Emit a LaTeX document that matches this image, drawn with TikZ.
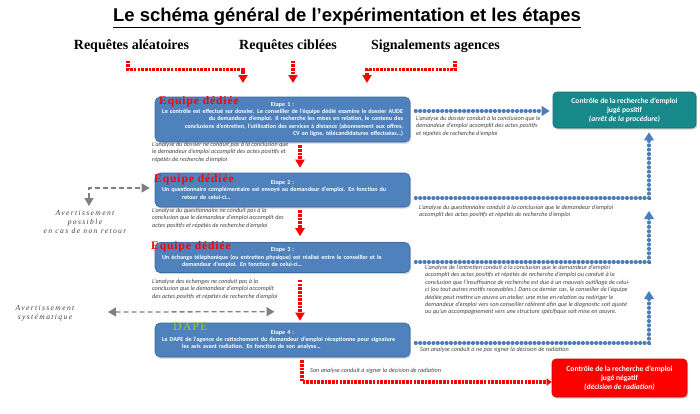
\documentclass[tikz,border=0pt]{standalone}
\usepackage{fontspec}
\setmainfont{Carlito}
\newfontfamily\titlefont{Liberation Sans}
\newfontfamily\reqfont{Liberation Serif}
\newfontfamily\eqfont[LetterSpace=8]{Liberation Serif}
\newfontfamily\avfont[LetterSpace=18]{Liberation Serif}
\usetikzlibrary{arrows.meta,shadows,calc}
\definecolor{boxblue}{HTML}{4F81BD}
\definecolor{boxborder}{HTML}{3C6A9E}
\definecolor{dotblue}{HTML}{4A7EBB}
\definecolor{teal}{HTML}{17898A}
\definecolor{redbox}{HTML}{FF0000}
\definecolor{dapegreen}{HTML}{99CC33}
\definecolor{txtgray}{HTML}{404040}
\definecolor{arrowgray}{HTML}{808080}
\newcommand{\rtline}[1]{\makebox[241pt][r]{#1}}
\newcommand{\stline}[1]{\makebox[241pt][s]{#1}}
\newcommand{\ctline}[1]{\makebox[241pt][c]{#1}}
\tikzset{
  stepbox/.style={rounded corners=5pt, fill=boxblue, draw=boxborder, line width=0.6pt,
    minimum width=255pt, inner sep=0pt, text width=241pt, align=left,
    drop shadow={shadow xshift=1.2pt, shadow yshift=-1.5pt, opacity=0.35},
    text=white, font=\fontsize{6.1}{7.2}\selectfont\bfseries},
  endbox/.style={rounded corners=4pt, line width=0.6pt, minimum width=143pt, minimum height=36pt,
    inner sep=0pt, align=center, text=white,
    drop shadow={shadow xshift=1.2pt, shadow yshift=-1.5pt, opacity=0.35},
    font=\fontsize{7.6}{9}\selectfont\bfseries},
  eqlabel/.style={anchor=west, inner sep=0pt, text=red, font=\eqfont\bfseries\fontsize{11.5}{12}\selectfont},
  note/.style={anchor=north west, inner sep=0pt, align=left, text=txtgray,
    font=\fontsize{6.2}{7.4}\selectfont\itshape},
  reqlabel/.style={inner sep=0pt, font=\reqfont\bfseries\fontsize{14}{16}\selectfont},
  avlabel/.style={inner sep=0pt, align=center, text=txtgray, font=\avfont\itshape\fontsize{7.6}{9.2}\selectfont},
  reddot/.style={draw=red, line width=3.4pt, dash pattern=on 2.6pt off 1.1pt,
    -{Triangle[width=9pt,length=8pt]}},
  bluedot/.style={draw=dotblue, line width=3.1pt, line cap=round, dash pattern=on 0.9pt off 3.5pt,
    -{Triangle[width=9.5pt,length=8pt,line cap=butt]}},
  graydash/.style={draw=arrowgray, line width=1.3pt, dash pattern=on 5pt off 3pt,
    {Triangle[width=9pt,length=8pt]}-{Triangle[width=9pt,length=8pt]}},
}
\begin{document}
\begin{tikzpicture}[x=1pt,y=-1pt]
\useasboundingbox (0,0) rectangle (700,413);
% title
\node[inner sep=0pt, font=\titlefont\bfseries\fontsize{18.5}{20}\selectfont] (title) at (347,18)
  {\underline{Le schéma général de l’expérimentation et les étapes}};
% request labels
\node[reqlabel] (q1) at (131.5,46) {Requêtes aléatoires};
\node[reqlabel] (q2) at (288,46) {Requêtes ciblées};
\node[reqlabel] (q3) at (435.5,46) {Signalements agences};
\coordinate (e1) at (243,83);
\coordinate (e2) at (293,83);
\coordinate (e3) at (367,83);
\draw[reddot] ($(q1.south)+(-3.5,8)$) -- ++(0,9) -| (e1);
\draw[reddot] ($(q2.south)+(5,8)$) -- (e2);
\draw[reddot] ($(q3.south)+(19.5,8)$) -- ++(0,9) -| (e3);

% step boxes
\node[stepbox, minimum height=45pt] (b1) at (282.5,119.5)
  {\ctline{Etape 1 :}\\
   \rtline{Le contrôle est effectué sur dossier. Le conseiller de l’équipe dédié examine le dossier AUDE}\\
   \rtline{du demandeur d’emploi. Il recherche les mises en relation, le contenu des}\\
   \rtline{conclusions d’entretien, l’utilisation des services à distance (abonnement aux offres,}\\
   \rtline{CV en ligne, télécandidatures effectuées…)}};
\node[stepbox, minimum height=34pt] (b2) at (282.5,190)
  {\ctline{Etape 2 :}\\
   \stline{Un questionnaire complémentaire est envoyé au demandeur d’emploi. En fonction du}\\
   \hspace*{20pt}retour de celui-ci…};
\node[stepbox, minimum height=30pt] (b3) at (282.5,257.5)
  {\ctline{Etape 3 :}\\
   \stline{Un échange téléphonique (ou entretien physique) est réalisé entre le conseiller et le}\\
   \hspace*{20pt}demandeur d’emploi. En fonction de celui-ci…};
\node[stepbox, minimum height=34pt] (b4) at (282.5,340)
  {\ctline{Etape 4 :}\\
   \stline{Le DAPE de l’agence de rattachement du demandeur d’emploi réceptionne pour signature}\\
   \hspace*{20pt}les avis avant radiation. En fonction de son analyse…};

% red labels
\node[eqlabel] (l1) at (159,102) {Equipe dédiée};
\node[eqlabel] (l2) at (154,180) {Equipe dédiée};
\node[eqlabel] (l3) at (151,247) {Equipe dédiée};
\node[eqlabel, text=dapegreen, font=\eqfont\fontsize{12}{12}\selectfont] (l4) at (173,327) {DAPE};

% end boxes
\node[endbox, fill=teal, draw=teal!80!black] (g) at (624.5,110)
  {Contrôle de la recherche d’emploi\\jugé positif\\\textit{(arrêt de la procédure)}};
\node[endbox, fill=redbox, draw=red!80!black, minimum width=135pt, minimum height=38pt] (r) at (619.5,378)
  {Contrôle de la recherche d’emploi\\jugé négatif\\\textit{(décision de radiation)}};

% notes left
\node[note] (n1) at (152,142) {L’analyse du dossier ne conduit pas à la conclusion que\\
  le demandeur d’emploi accomplit des actes positifs et\\répétés de recherche d’emploi};
\node[note] (n2) at (152,208) {L’analyse du questionnaire ne conduit pas à la\\
  conclusion que le demandeur d’emploi accomplit des\\actes positifs et répétés de recherche d’emploi};
\node[note] (n3) at (152,279) {L’analyse des échanges ne conduit pas à la\\
  conclusion que le demandeur d’emploi accomplit\\des actes positifs et répétés de recherche d’emploi};
% notes right
\node[note] (m1) at (416,116) {L’analyse du dossier conduit à la conclusion que le\\
  demandeur d’emploi accomplit des actes positifs\\et répétés de recherche d’emploi};
\node[note] (m2) at (419,204.5) {L’analyse du questionnaire conduit à la conclusion que le demandeur d’emploi\\
  accomplit des actes positifs et répétés de recherche d’emploi};
\node[note] (m3) at (425,265) {L’analyse de l’entretien conduit à la conclusion que le demandeur d’emploi\\
  accomplit des actes positifs et répétés de recherche d’emploi ou conduit à la\\
  conclusion que l’insuffisance de recherche est due à un mauvais outillage de celui-\\
  ci (ou tout autres motifs recevables.) Dans ce dernier cas, le conseiller de l’équipe\\
  dédiée peut mettre un œuvre un atelier, une mise en relation ou rediriger le\\
  demandeur d’emploi vers son conseiller référent afin que le diagnostic soit ajusté\\
  ou qu’un accompagnement vers une structure spécifique soit mise en œuvre.};
\node[note] (m4) at (420,346.5) {Son analyse conduit à ne pas signer la décision de radiation};
\node[note] (m5) at (310,367.5) {Son analyse conduit à signer la décision de radiation};

% red arrows between steps
\coordinate (ax) at (300,0);
\draw[reddot] ($(b1.south -| ax)+(0,3)$) -- ($(b2.north -| ax)+(0,-5)$);
\draw[reddot] ($(b2.south -| ax)+(0,3)$) -- ($(b3.north -| ax)+(0,-6)$);
\draw[reddot] ($(b3.south -| ax)+(0,7)$) -- ($(b4.north -| ax)+(0,-2)$);
\draw[reddot, -{Triangle[width=7pt,length=5pt]}] ($(b4.south -| ax)+(2,3)$) |- ($(r.west)+(0,4)$);

% blue dotted arrows
\coordinate (vx) at (649,0);
\coordinate (t3) at (649,211);
\coordinate (t4) at (649,291);
\draw[bluedot] ($(b1.east)+(5,-8.5)$) -- ($(g.west |- b1.east)+(-3,-8.5)$);
\draw[bluedot] ($(b2.east)+(5,8)$) -| ($(g.south -| vx)+(0,4)$);
\draw[bluedot] ($(b3.east)+(5,4.5)$) -| (t3);
\draw[bluedot] ($(b4.east)+(5,3)$) -| (t4);

% gray warnings
\coordinate (w1) at (89,206);
\coordinate (w2) at (108,312);
\draw[graydash] (w1) |- ($(b2.west)+(-5,-2)$);
\draw[graydash] (w2) -- ($(b4.north)+(-8,-11)$);
\node[avlabel] (av1) at (85,222) {Avertissement\\possible\\en cas de non retour};
\node[avlabel] (av2) at (45,313) {Avertissement\\systématique};
\end{tikzpicture}
\end{document}
